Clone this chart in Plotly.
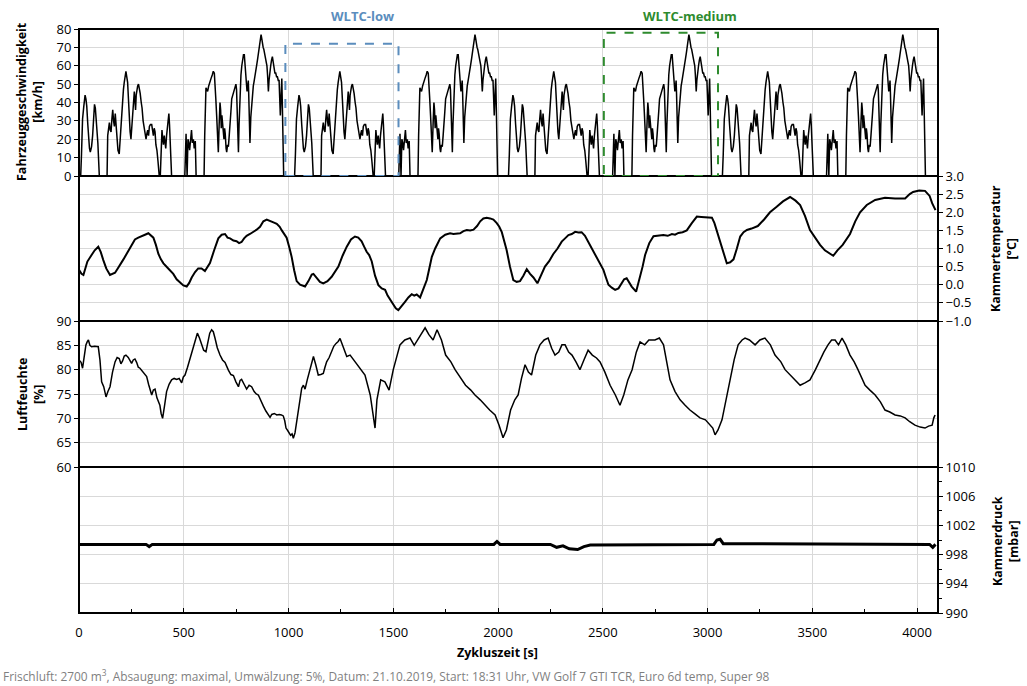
import plotly.graph_objects as go

# ---------------- data ----------------
# one WLTC low+medium cycle (cycle time [s], speed [km/h]); the chart shows it 4 times
cycle_time = [0, 8, 12, 17, 23, 29, 33, 37, 42, 46, 50, 54, 60, 65, 70, 74, 78, 82, 86, 90, 97,
              134, 137, 141, 145, 149, 153, 157, 161, 165, 169, 173, 177, 180, 186, 192, 196, 200, 204, 208,
              212, 216, 220, 224, 228, 232, 236, 240, 244, 248, 252, 256, 260, 264, 267, 270, 273, 276, 280,
              284, 288, 292, 297, 301, 306, 312, 316, 320, 324, 328, 332, 336, 341, 347, 351, 355, 359, 363,
              367, 372, 377, 383, 388, 392, 396, 400, 403, 407, 410, 414, 418, 422, 426, 429, 432, 436, 442,
              505, 508, 511, 514, 516, 520, 524, 528, 533, 537, 541, 546, 550, 555, 559,
              597, 600, 603, 606, 610, 614, 619, 625, 630, 636, 641, 646, 650, 653, 657, 660, 663, 665, 669,
              673, 676, 679, 682, 685, 688, 692, 695, 698, 702, 705, 709, 713, 717, 721, 725, 729, 734, 738,
              741, 745, 749, 752, 754, 757, 761, 764, 767, 770, 773, 777, 781, 785, 789, 793, 797, 800, 802,
              805, 808, 810, 813, 816, 820, 824, 828, 832, 835, 840, 845, 849, 853, 857, 861, 865, 869, 872,
              875, 879, 882, 886, 890, 894, 897, 900, 902, 904, 907, 911, 915, 919, 923, 927, 931, 935, 939,
              943, 947, 951, 955, 958, 961, 964, 968, 970, 972, 975, 977, 1021]
cycle_speed = [0, 0, 12, 31, 38, 44, 42, 38, 28, 20, 15, 13, 16, 22, 34, 39, 37, 32, 25, 18, 0,
               0, 22, 27, 29, 25, 24, 31, 36, 30, 27, 34, 26, 22, 14, 12, 20, 27, 35, 42,
               47, 51, 55, 57, 54, 51, 42, 31, 24, 20, 26, 33, 40, 46, 41, 36, 44, 47, 49,
               50, 48, 45, 40, 37, 30, 26, 22, 20, 23, 25, 22, 27, 28, 28, 25, 22, 26, 24,
               17, 14, 8, 0, 0, 16, 25, 20, 17, 22, 18, 15, 22, 27, 32, 34, 28, 15, 0,
               0, 18, 23, 8, 0, 20, 18, 14, 22, 25, 18, 20, 15, 19, 0,
               0, 22, 38, 48, 47, 46, 49, 52, 53, 55, 57, 56, 50, 42, 33, 25, 17, 13, 28,
               40, 36, 26, 33, 30, 24, 20, 26, 23, 15, 13, 17, 16, 22, 27, 35, 42, 44, 46,
               47, 49, 50, 47, 40, 25, 13, 28, 40, 48, 55, 60, 64, 66, 66, 60, 55, 50, 46,
               48, 52, 45, 30, 18, 32, 40, 46, 49, 51, 54, 58, 61, 64, 67, 70, 73, 77, 75,
               71, 70, 69, 67, 64, 62, 60, 55, 50, 46, 52, 58, 60, 63, 65, 62, 58, 56, 56,
               54, 54, 52, 52, 45, 33, 42, 53, 42, 27, 12, 0, 0]
cycle_starts = [0, 1021, 2042, 3063]

temp_time = [0, 12, 21, 30, 40, 60, 75, 92, 104, 116, 130, 148, 160, 172, 185, 196, 212, 227, 247, 267,
             283, 299, 315, 331, 343, 355, 367, 379, 391, 403, 426, 450, 466, 482, 498, 514, 526, 538, 554,
             569, 585, 601, 613, 625, 645, 665, 681, 697, 709, 721, 737, 752, 764, 776, 788, 800, 816, 832,
             848, 864, 880, 896, 912, 928, 944, 958, 968, 980, 991, 1003, 1015, 1027, 1039, 1055, 1067, 1079,
             1095, 1111, 1119, 1135, 1150, 1166, 1186, 1206, 1222, 1238, 1258, 1278, 1298, 1317, 1333, 1349,
             1361, 1373, 1385, 1397, 1413, 1429, 1445, 1461, 1473, 1485, 1500, 1512, 1524, 1540, 1556, 1572,
             1588, 1600, 1612, 1628, 1644, 1660, 1672, 1684, 1700, 1712, 1724, 1748, 1771, 1787, 1803, 1819,
             1835, 1851, 1867, 1883, 1900, 1915, 1930, 1946, 1962, 1978, 1994, 2006, 2018, 2030, 2041, 2057,
             2073, 2089, 2105, 2121, 2137, 2153, 2169, 2188, 2206, 2224, 2244, 2264, 2284, 2304, 2320, 2336,
             2352, 2368, 2384, 2399, 2415, 2431, 2451, 2471, 2487, 2503, 2515, 2527, 2543, 2559, 2575, 2590,
             2602, 2614, 2626, 2638, 2659, 2670, 2678, 2690, 2702, 2722, 2742, 2766, 2789, 2810, 2830, 2845,
             2861, 2881, 2901, 2925, 2949, 2970, 2990, 3021, 3033, 3044, 3056, 3068, 3080, 3092, 3108, 3124,
             3140, 3156, 3172, 3188, 3210, 3240, 3270, 3298, 3330, 3360, 3394, 3420, 3442, 3465, 3489, 3513,
             3537, 3560, 3585, 3600, 3620, 3645, 3680, 3705, 3728, 3760, 3800, 3847, 3895, 3943, 3965, 3981,
             4010, 4038, 4060, 4072, 4088]
temp_value = [0.41, 0.30, 0.27, 0.45, 0.64, 0.82, 0.95, 1.05, 0.90, 0.68, 0.45, 0.27, 0.30, 0.33, 0.45, 0.54,
              0.70, 0.85, 1.05, 1.25, 1.30, 1.33, 1.38, 1.42, 1.35, 1.30, 1.10, 0.85, 0.70, 0.59, 0.45, 0.30,
              0.15, 0.05, -0.02, -0.05, 0.05, 0.20, 0.35, 0.45, 0.45, 0.38, 0.48, 0.60, 0.95, 1.28, 1.38, 1.40,
              1.30, 1.28, 1.22, 1.20, 1.15, 1.18, 1.28, 1.35, 1.40, 1.45, 1.52, 1.60, 1.75, 1.80, 1.75, 1.72,
              1.68, 1.60, 1.50, 1.40, 1.30, 1.05, 0.77, 0.40, 0.10, 0.00, -0.03, -0.05, 0.10, 0.28, 0.30, 0.18,
              0.08, 0.04, 0.10, 0.22, 0.35, 0.50, 0.80, 1.05, 1.25, 1.33, 1.30, 1.20, 1.05, 0.91, 0.82, 0.65,
              0.25, -0.01, -0.10, -0.14, -0.30, -0.42, -0.55, -0.65, -0.70, -0.60, -0.47, -0.35, -0.26, -0.30,
              -0.27, -0.35, -0.10, 0.13, 0.45, 0.77, 1.00, 1.15, 1.28, 1.38, 1.42, 1.40, 1.40, 1.42, 1.48, 1.51,
              1.50, 1.52, 1.62, 1.75, 1.83, 1.85, 1.83, 1.80, 1.70, 1.60, 1.45, 1.20, 0.96, 0.50, 0.13, 0.08,
              0.10, 0.25, 0.43, 0.30, 0.20, 0.04, 0.25, 0.50, 0.65, 0.85, 1.00, 1.19, 1.28, 1.37, 1.40, 1.46,
              1.44, 1.45, 1.35, 1.18, 1.00, 0.77, 0.60, 0.41, 0.20, 0.00, -0.08, -0.14, -0.10, 0.05, 0.15, 0.18,
              0.05, -0.05, -0.19, 0.05, 0.20, 0.50, 0.82, 1.15, 1.34, 1.36, 1.37, 1.35, 1.40, 1.38, 1.43, 1.45,
              1.50, 1.70, 1.88, 1.87, 1.86, 1.85, 1.70, 1.50, 1.30, 1.05, 0.80, 0.59, 0.62, 0.70, 1.00, 1.33,
              1.45, 1.51, 1.55, 1.62, 1.80, 2.00, 2.15, 2.30, 2.42, 2.32, 2.20, 1.90, 1.51, 1.30, 1.10, 0.95,
              0.85, 0.80, 0.95, 1.10, 1.40, 1.75, 2.00, 2.20, 2.34, 2.40, 2.38, 2.38, 2.50, 2.56, 2.60, 2.59,
              2.45, 2.25, 2.06]

hum_time = [0, 10, 17, 25, 33, 40, 45, 52, 60, 75, 92, 100, 108, 118, 129, 138, 148, 160, 172, 182, 192, 200,
            208, 216, 224, 235, 245, 251, 259, 267, 275, 283, 291, 300, 312, 323, 332, 340, 347, 355, 363, 372,
            380, 386, 392, 399, 408, 418, 430, 442, 454, 466, 478, 490, 498, 506, 518, 530, 538, 546, 556, 565,
            575, 585, 595, 606, 615, 624, 633, 641, 649, 660, 673, 685, 697, 705, 713, 725, 737, 749, 761, 769,
            776, 788, 800, 812, 824, 836, 846, 856, 868, 880, 892, 904, 912, 920, 932, 944, 956, 966, 975, 982,
            988, 996, 1003, 1010, 1017, 1023, 1031, 1039, 1050, 1063, 1071, 1079, 1090, 1103, 1111, 1119, 1130,
            1142, 1154, 1166, 1174, 1182, 1194, 1206, 1216, 1227, 1237, 1246, 1258, 1270, 1278, 1294, 1330,
            1365, 1390, 1405, 1413, 1422, 1440, 1460, 1480, 1500, 1520, 1532, 1555, 1580, 1600, 1620, 1652,
            1670, 1690, 1709, 1730, 1750, 1775, 1795, 1820, 1845, 1870, 1890, 1915, 1938, 1960, 1986, 2005,
            2024, 2040, 2060, 2080, 2096, 2112, 2129, 2145, 2160, 2180, 2200, 2220, 2239, 2256, 2272, 2290,
            2305, 2320, 2337, 2353, 2372, 2391, 2410, 2430, 2450, 2470, 2487, 2510, 2535, 2560, 2582, 2600,
            2620, 2640, 2660, 2678, 2700, 2720, 2749, 2770, 2790, 2805, 2821, 2845, 2869, 2893, 2916, 2940,
            2964, 2990, 3012, 3025, 3036, 3050, 3069, 3088, 3107, 3127, 3146, 3165, 3179, 3200, 3227, 3250,
            3274, 3300, 3322, 3350, 3370, 3394, 3420, 3442, 3465, 3489, 3515, 3537, 3555, 3575, 3592, 3609,
            3625, 3642, 3660, 3680, 3700, 3718, 3735, 3752, 3775, 3800, 3825, 3847, 3870, 3895, 3920, 3943,
            3965, 3990, 4015, 4038, 4055, 4072, 4080, 4086]
hum_value = [82.0, 81.5, 80.3, 82.5, 85.1, 85.8, 86.1, 85.0, 84.7, 84.8, 84.7, 82.0, 77.5, 76.5, 74.4, 75.5,
             76.5, 79.5, 81.6, 82.5, 82.3, 81.2, 81.8, 82.8, 83.0, 82.5, 81.8, 81.3, 82.0, 82.2, 81.5, 80.5,
             80.3, 79.8, 79.3, 78.6, 77.0, 75.5, 74.8, 75.8, 76.0, 74.2, 73.5, 72.7, 71.0, 70.0, 72.5, 75.5,
             77.0, 77.9, 78.2, 78.0, 78.2, 77.3, 78.5, 78.9, 80.5, 82.3, 84.0, 85.1, 86.5, 87.5, 86.5, 85.0,
             84.0, 83.7, 85.5, 87.5, 88.2, 87.8, 86.5, 84.5, 83.0, 82.0, 81.5, 80.5, 79.9, 79.0, 78.8, 77.5,
             76.5, 77.8, 78.0, 77.0, 76.0, 76.8, 76.5, 75.5, 75.0, 74.8, 73.5, 72.5, 71.5, 70.7, 70.2, 70.8,
             71.0, 70.7, 70.8, 70.7, 70.5, 69.5, 68.0, 67.5, 67.0, 66.5, 66.8, 65.9, 67.0, 69.5, 73.0, 76.2,
             76.8, 76.0, 78.0, 80.3, 81.5, 82.7, 81.0, 78.9, 79.0, 79.2, 80.5, 81.6, 82.5, 84.0, 84.8, 85.4,
             85.8, 86.4, 85.0, 83.5, 82.7, 83.0, 81.0, 78.9, 74.8, 69.7, 68.0, 73.8, 77.9, 77.5, 75.8, 80.0,
             83.6, 85.1, 86.1, 86.5, 85.0, 86.5, 88.6, 87.2, 86.1, 88.2, 86.1, 83.0, 81.6, 80.0, 78.4, 76.8,
             75.8, 74.8, 73.8, 72.7, 71.7, 70.7, 68.6, 66.0, 67.6, 71.7, 73.8, 74.8, 78.2, 81.0, 79.5, 78.9,
             83.0, 85.1, 86.1, 86.5, 84.4, 83.0, 83.6, 85.1, 85.1, 83.6, 83.0, 81.6, 80.0, 82.0, 84.0, 83.0,
             82.4, 81.6, 79.5, 76.8, 74.8, 72.7, 74.8, 77.9, 80.0, 83.6, 85.7, 85.1, 86.1, 86.1, 86.5, 85.1,
             81.6, 77.9, 75.5, 73.8, 72.7, 71.7, 70.9, 70.1, 69.7, 68.6, 68.0, 66.6, 67.6, 69.7, 73.8, 77.9,
             82.0, 85.1, 86.1, 86.5, 86.1, 85.1, 86.1, 86.5, 85.1, 83.0, 81.6, 80.0, 78.9, 77.9, 76.8, 77.3,
             77.9, 80.0, 82.0, 83.6, 85.1, 86.1, 86.1, 85.1, 86.5, 85.1, 83.0, 81.6, 80.0, 78.4, 76.8, 75.8,
             74.8, 73.4, 71.7, 71.3, 70.7, 70.5, 70.1, 69.3, 68.6, 68.2, 68.0, 68.4, 68.6, 70.1, 70.7]

press_time = [0, 320, 335, 350, 1980, 1995, 2010, 2250, 2280, 2310, 2340, 2380, 2410, 2440, 3030, 3045, 3060,
              3075, 4060, 4075, 4088]
press_value = [999.4, 999.4, 999.1, 999.4, 999.4, 999.8, 999.4, 999.4, 999.0, 999.2, 998.8, 998.7, 999.1,
               999.3, 999.4, 1000.0, 1000.1, 999.5, 999.4, 999.0, 999.4]

x_ticks = [0, 500, 1000, 1500, 2000, 2500, 3000, 3500, 4000]
wltc_low = [985, 1525, 72]       # start, end, box height
wltc_medium = [2505, 3050, 78]
footer = ("Frischluft: 2700 m<sup>3</sup>, Absaugung: maximal, Umwälzung: 5%, Datum: 21.10.2019, "
          "Start: 18:31 Uhr, VW Golf 7 GTI TCR, Euro 6d temp, Super 98")

# ---------------- figure ----------------
speed_x, speed_y = [], []
for s in cycle_starts:
    speed_x += [s + t for t in cycle_time]
    speed_y += cycle_speed

FONT = "Open Sans"
GRID = "#d9d9d9"
fig = go.Figure()
fig.add_trace(go.Scatter(x=speed_x, y=speed_y, mode="lines", line=dict(color="black", width=1.5),
                         xaxis="x", yaxis="y", showlegend=False))
fig.add_trace(go.Scatter(x=temp_time, y=temp_value, mode="lines", line=dict(color="black", width=2),
                         xaxis="x", yaxis="y2", showlegend=False))
fig.add_trace(go.Scatter(x=hum_time, y=hum_value, mode="lines", line=dict(color="black", width=1.5),
                         xaxis="x", yaxis="y3", showlegend=False))
fig.add_trace(go.Scatter(x=press_time, y=press_value, mode="lines", line=dict(color="black", width=3),
                         xaxis="x", yaxis="y4", showlegend=False))

H = 584.0
d1 = (613 - 176) / H
d2 = (613 - 321) / H
d3 = (613 - 467) / H
tickfont = dict(family=FONT, size=13, color="black")
common_y = dict(showgrid=True, gridcolor=GRID, gridwidth=1, zeroline=False, showline=False,
                ticks="outside", ticklen=4, tickcolor="black", tickfont=tickfont, anchor="x")

fig.update_layout(
    width=1027, height=686,
    margin=dict(l=79, r=89, t=29, b=73),
    paper_bgcolor="white", plot_bgcolor="white",
    font=dict(family=FONT, color="black"),
    xaxis=dict(range=[0, 4100], domain=[0, 1], anchor="y4", tickvals=x_ticks, showgrid=True,
               gridcolor=GRID, zeroline=False, showline=False, ticks="inside", ticklen=5,
               tickcolor="black", tickfont=tickfont, ticklabelstandoff=10,
               minor=dict(dtick=250, ticks="inside", ticklen=4, tickcolor="black", showgrid=False)),
    yaxis=dict(domain=[d1, 1], range=[0, 80], dtick=10, side="left", **common_y),
    yaxis2=dict(domain=[d2, d1], range=[-1, 3], dtick=0.5, tickformat=".1f", side="right", **common_y),
    yaxis3=dict(domain=[d3, d2], range=[60, 90], dtick=5, side="left", **common_y),
    yaxis4=dict(domain=[0, d3], range=[990, 1010], tickvals=[990, 994, 998, 1002, 1006, 1010],
                side="right", minor=dict(dtick=2, ticks="outside", ticklen=3, tickcolor="black",
                                         showgrid=False), **common_y),
)

# panel frames
shapes = []
for (y0, y1) in [(d1, 1), (d2, d1), (d3, d2), (0, d3)]:
    shapes.append(dict(type="rect", xref="paper", yref="paper", x0=0, x1=1, y0=y0, y1=y1,
                       line=dict(color="black", width=2), layer="above"))
# WLTC boxes
shapes.append(dict(type="rect", xref="x", yref="y", x0=wltc_low[0], x1=wltc_low[1], y0=0, y1=wltc_low[2],
                   line=dict(color="#5b8dbd", width=2, dash="dash"), layer="above"))
shapes.append(dict(type="rect", xref="x", yref="y", x0=wltc_medium[0], x1=wltc_medium[1], y0=0,
                   y1=wltc_medium[2], line=dict(color="#2e8b2e", width=2, dash="dash"), layer="above"))
fig.update_layout(shapes=shapes)

def px_x(px):
    return (px - 79) / 859.0

def px_y(py):
    return (613 - py) / H

title_font = dict(family=FONT, size=12.5, color="black")
ann = [
    dict(text="<b>WLTC-low</b>", x=px_x(362), y=px_y(16), font=dict(family=FONT, size=13, color="#5b8dbd")),
    dict(text="<b>WLTC-medium</b>", x=px_x(690), y=px_y(16), font=dict(family=FONT, size=13, color="#2e8b2e")),
    dict(text="<b>Fahrzeuggeschwindigkeit<br>[km/h]</b>", x=px_x(29), y=px_y(102), textangle=-90, font=title_font),
    dict(text="<b>Luftfeuchte<br>[%]</b>", x=px_x(30), y=px_y(395), textangle=-90, font=title_font),
    dict(text="<b>Kammertemperatur<br>[°C]</b>", x=px_x(1004), y=px_y(249), textangle=-90, font=title_font),
    dict(text="<b>Kammerdruck<br>[mbar]</b>", x=px_x(1005), y=px_y(541), textangle=-90, font=title_font),
    dict(text="<b>Zykluszeit [s]</b>", x=px_x(497), y=px_y(652), font=dict(family=FONT, size=12.5, color="black")),
]
annotations = []
for a in ann:
    a.update(xref="paper", yref="paper", showarrow=False, xanchor="center", yanchor="middle")
    annotations.append(a)
annotations.append(dict(text=footer, xref="paper", yref="paper", x=px_x(1), y=px_y(675), showarrow=False,
                        xanchor="left", yanchor="middle",
                        font=dict(family=FONT, size=11.9, color="#7f7f7f")))
fig.update_layout(annotations=annotations)

fig.write_html("out.html")
